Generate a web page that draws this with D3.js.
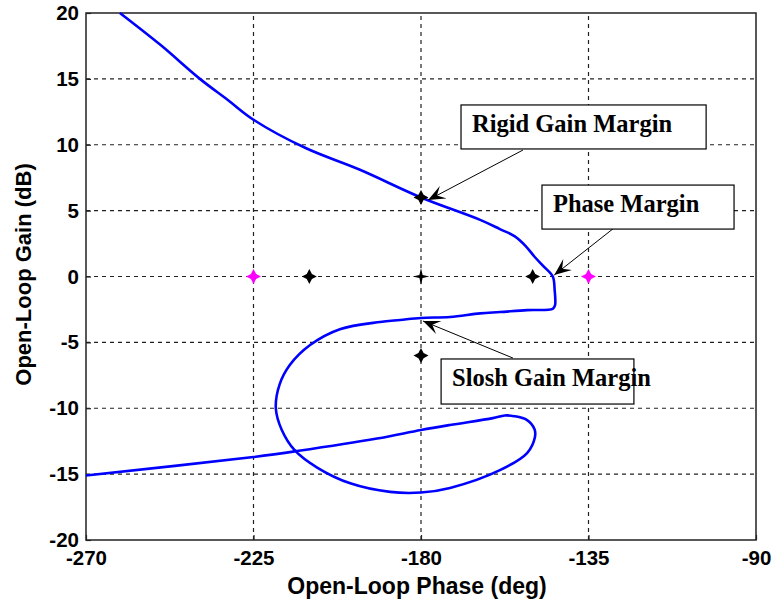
<!DOCTYPE html>
<html>
<head>
<meta charset="utf-8">
<script src="https://cdn.jsdelivr.net/npm/d3@7"></script>
<style>
  body { margin: 0; background: #fff; }
  svg { display: block; }
</style>
</head>
<body>
<svg></svg>
<script>
// open-loop curve
var phase = [-260.9, -250.1, -239.4, -231.9, -225, -211, -196.4, -180, -164.1, -158.8,
  -154.8, -152.0, -149.5, -147.0, -144.6, -144.1, -144.0, -144.6, -151.5, -158.8,
  -164.1, -172.2, -180, -185.6, -191, -201.8, -209.8, -215.2, -218, -219,
  -217.4, -213.9, -207.9, -199, -188.3, -180, -172.2, -158.8, -151.5, -149.4,
  -149.5, -151.5, -155, -157.5, -160.7, -172.2, -180, -191.8, -213.3, -225, -270]
var gain = [20, 17.6, 15, 13.4, 11.9, 9.75, 8.1, 6.0, 4.3, 3.6,
  3.05, 2.35, 1.5, 0.75, 0.0, -1.0, -2.2, -2.45, -2.55, -2.7,
  -2.8, -3.07, -3.15, -3.3, -3.45, -4.0, -5.2, -6.7, -8.2, -10.0,
  -11.65, -13.2, -14.5, -15.7, -16.35, -16.4, -16.05, -14.7, -13.4, -12.2,
  -11.6, -10.9, -10.6, -10.55, -10.75, -11.27, -11.65, -12.3, -13.25, -13.7, -15.1]

// margin markers
var starPhase = [-210, -150, -180, -180]
var starGain = [0, 0, 6, -6]
var pinkPhase = [-225, -135]
var pinkGain = [0, 0]
var crossPhase = [-180]
var crossGain = [0]

var xTicks = [-270, -225, -180, -135, -90]
var yTicks = [-20, -15, -10, -5, 0, 5, 10, 15, 20]

// annotation boxes (data coords) and arrows
var notes = [
  { label: "Rigid Gain Margin", box: [-169.25, 13.02, -103.4, 9.68], tail: [-152.6, 9.6], tip: [-178.1, 5.8] },
  { label: "Phase Margin", box: [-147.5, 6.94, -95.9, 3.6], tail: [-128.15, 3.68], tip: [-144.2, 0.11] },
  { label: "Slosh Gain Margin", box: [-174.6, -6.26, -122.8, -9.68], tail: [-155.3, -6.19], tip: [-179.46, -3.38] }
]

var width = 771, height = 604
var margin = { left: 86, right: 15, top: 13, bottom: 64 }
var svg = d3.select('svg').attr('width', width).attr('height', height)

var x = d3.scaleLinear().domain([-270, -90]).range([margin.left, width - margin.right])
var y = d3.scaleLinear().domain([-20, 20]).range([height - margin.bottom, margin.top])

var x0 = x.range()[0], x1 = x.range()[1], y0 = y.range()[0], y1 = y.range()[1]

// grid
var grid = svg.append('g').attr('stroke', '#222').attr('stroke-width', 1.2).attr('stroke-dasharray', '4,4')
grid.selectAll('line.gx').data(xTicks.slice(1, -1)).enter().append('line')
  .attr('x1', d => x(d)).attr('x2', d => x(d)).attr('y1', y0).attr('y2', y1)
grid.selectAll('line.gy').data(yTicks.slice(1, -1)).enter().append('line')
  .attr('y1', d => y(d)).attr('y2', d => y(d)).attr('x1', x0).attr('x2', x1)

// axes
var fmt = d => String(d)
var xAxis = d3.axisBottom(x).tickValues(xTicks).tickFormat(fmt).tickSize(-5).tickPadding(10)
var yAxis = d3.axisLeft(y).tickValues(yTicks).tickFormat(fmt).tickSize(-5).tickPadding(7)
svg.append('g').attr('transform', 'translate(0,' + y0 + ')').call(xAxis)
svg.append('g').attr('transform', 'translate(' + x0 + ',0)').call(yAxis)
svg.selectAll('.domain').remove()
svg.selectAll('.tick line').attr('stroke', '#222').attr('stroke-width', 1.2)
svg.selectAll('.tick text')
  .attr('fill', '#000')
  .style('font-family', '"Liberation Sans", Arial, sans-serif')
  .style('font-weight', 'bold')
  .style('font-size', '20.5px')

svg.append('rect').attr('x', x0).attr('y', y1).attr('width', x1 - x0).attr('height', y0 - y1)
  .attr('fill', 'none').attr('stroke', '#222').attr('stroke-width', 1.5)

// axis titles
svg.append('text').attr('x', (x0 + x1) / 2 - 4).attr('y', 594)
  .attr('text-anchor', 'middle')
  .style('font-family', '"Liberation Sans", Arial, sans-serif')
  .style('font-weight', 'bold').style('font-size', '23px')
  .text('Open-Loop Phase (deg)')
svg.append('text').attr('transform', 'translate(31,' + ((y0 + y1) / 2 - 2) + ') rotate(-90)')
  .attr('text-anchor', 'middle')
  .style('font-family', '"Liberation Sans", Arial, sans-serif')
  .style('font-weight', 'bold').style('font-size', '22px')
  .text('Open-Loop Gain (dB)')

// curve
var pts = phase.map((p, i) => [p, gain[i]])
var line = d3.line().x(d => x(d[0])).y(d => y(d[1])).curve(d3.curveCatmullRom.alpha(0.5))
svg.append('path').datum(pts).attr('d', line)
  .attr('fill', 'none').attr('stroke', '#0000ff').attr('stroke-width', 2.6)

// markers
function star(r, w) {
  return 'M0,' + (-r) + 'L' + w + ',' + (-w) + 'L' + r + ',0L' + w + ',' + w +
    'L0,' + r + 'L' + (-w) + ',' + w + 'L' + (-r) + ',0L' + (-w) + ',' + (-w) + 'Z'
}
svg.selectAll('path.star').data(starPhase).enter().append('path')
  .attr('d', star(7.5, 2.6))
  .attr('transform', (d, i) => 'translate(' + x(d) + ',' + y(starGain[i]) + ')')
  .attr('fill', '#000')
svg.selectAll('path.pink').data(pinkPhase).enter().append('path')
  .attr('d', star(7.5, 2.6))
  .attr('transform', (d, i) => 'translate(' + x(d) + ',' + y(pinkGain[i]) + ')')
  .attr('fill', '#ff00ff')
svg.selectAll('path.cross').data(crossPhase).enter().append('path')
  .attr('d', star(8.5, 1.6))
  .attr('transform', (d, i) => 'translate(' + x(d) + ',' + y(crossGain[i]) + ')')
  .attr('fill', '#000')

// arrowhead
svg.append('defs').append('marker')
  .attr('id', 'head').attr('viewBox', '-17 -8 19 16')
  .attr('markerWidth', 19).attr('markerHeight', 16)
  .attr('markerUnits', 'userSpaceOnUse')
  .attr('refX', 0).attr('refY', 0).attr('orient', 'auto')
  .append('path').attr('d', 'M0,0L-17,-7L-10,0L-17,7Z').attr('fill', '#000')

// annotations
var ann = svg.append('g')
notes.forEach(function(n) {
  var bx = x(n.box[0]), by = y(n.box[1])
  ann.append('line')
    .attr('x1', x(n.tail[0])).attr('y1', y(n.tail[1]))
    .attr('x2', x(n.tip[0])).attr('y2', y(n.tip[1]))
    .attr('stroke', '#000').attr('stroke-width', 1)
    .attr('marker-end', 'url(#head)')
  ann.append('rect')
    .attr('x', bx).attr('y', by)
    .attr('width', x(n.box[2]) - bx).attr('height', y(n.box[3]) - by)
    .attr('fill', '#fff').attr('stroke', '#000').attr('stroke-width', 1.2)
  ann.append('text')
    .attr('x', bx + 11).attr('y', by + 27)
    .style('font-family', '"Liberation Serif", "Times New Roman", serif')
    .style('font-weight', 'bold').style('font-size', '24.5px')
    .text(n.label)
})
</script>
</body>
</html>
